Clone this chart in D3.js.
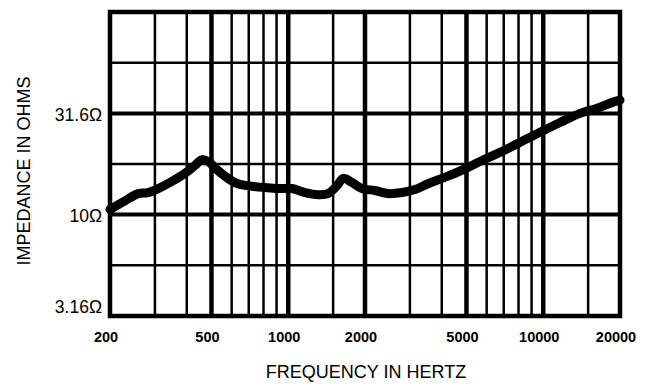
<!DOCTYPE html>
<html>
<head>
<meta charset="utf-8">
<script src="https://cdn.jsdelivr.net/npm/d3@7"></script>
<style>
    body { margin: 0; background: #fff; overflow: hidden; }
    svg { display: block; }
    text { font-family: "Liberation Sans", Arial, Helvetica, sans-serif; fill: #000; }
</style>
</head>
<body>
<div id="chart"></div>
<script>
// Impedance curve (Hz, ohms)
const freqs = [200, 229, 258, 282, 309, 350, 394, 431, 459, 484, 530, 580, 635, 721, 810, 912,
    1034, 1164, 1308, 1432, 1555, 1640, 1778, 1946, 2188, 2461, 2794, 3142, 3532, 4008, 4508,
    5070, 5754, 6766, 8100, 9710, 11640, 13940, 16260, 18780, 20000];
const ohms = [10.6, 11.7, 12.7, 12.85, 13.45, 14.6, 16.0, 17.5, 18.7, 18.3, 16.5, 15.1, 14.2, 13.8, 13.6, 13.45,
    13.45, 12.85, 12.55, 12.7, 13.9, 15.1, 14.4, 13.45, 13.15, 12.7, 12.85, 13.3, 14.2, 15.1, 16.0,
    17.1, 18.5, 20.3, 22.7, 25.5, 28.5, 31.6, 33.5, 35.9, 36.7];

// grid
const freqGrid = [200, 300, 400, 500, 600, 700, 800, 900, 1000, 1500, 2000, 3000, 4000, 5000,
    6000, 7000, 8000, 9000, 10000, 15000, 20000];
const freqMajor = [500, 1000, 2000, 5000, 10000];
const freqLabels = [200, 500, 1000, 2000, 5000, 10000, 20000];
const ohmGrid = [3.16, 5.62, 10, 17.8, 31.6, 56.2, 100];
const ohmMajor = [10, 31.6];
const ohmLabels = [31.6, 10, 3.16];

const width = 645, height = 385;
const margin = { top: 12, right: 25, bottom: 69, left: 110 };
const innerWidth = width - margin.left - margin.right;
const innerHeight = height - margin.top - margin.bottom;

const svg = d3.select('#chart')
    .append('svg')
    .attr('width', width)
    .attr('height', height);

const g = svg.append('g')
    .attr('transform', `translate(${margin.left},${margin.top})`);

const x = d3.scaleLog().domain([200, 20000]).range([0, innerWidth]);
const y = d3.scaleLog().domain([3.16, 100]).range([innerHeight, 0]);

// vertical grid lines
g.selectAll('.vgrid')
    .data(freqGrid)
    .enter()
    .append('line')
    .attr('x1', d => x(d))
    .attr('x2', d => x(d))
    .attr('y1', 0)
    .attr('y2', innerHeight)
    .attr('stroke', '#000')
    .attr('stroke-width', d => freqMajor.includes(d) ? 4.5 : 2.5);

// horizontal grid lines
g.selectAll('.hgrid')
    .data(ohmGrid)
    .enter()
    .append('line')
    .attr('x1', 0)
    .attr('x2', innerWidth)
    .attr('y1', d => y(d))
    .attr('y2', d => y(d))
    .attr('stroke', '#000')
    .attr('stroke-width', d => ohmMajor.includes(d) ? 4 : 2.5);

// frame
g.append('rect')
    .attr('width', innerWidth)
    .attr('height', innerHeight)
    .attr('fill', 'none')
    .attr('stroke', '#000')
    .attr('stroke-width', 4.5);

// impedance curve
const line = d3.line()
    .x((d, i) => x(freqs[i]))
    .y(d => y(d))
    .curve(d3.curveCatmullRom);

g.append('path')
    .datum(ohms)
    .attr('fill', 'none')
    .attr('stroke', '#000')
    .attr('stroke-width', 9)
    .attr('stroke-linecap', 'round')
    .attr('stroke-linejoin', 'round')
    .attr('d', line);

// x tick labels
g.selectAll('.xlabel')
    .data(freqLabels)
    .enter()
    .append('text')
    .attr('x', d => x(d) - 4)
    .attr('y', innerHeight + 26)
    .attr('text-anchor', 'middle')
    .attr('font-size', 14.5)
    .attr('font-weight', 'bold')
    .text(d => d);

// y tick labels
g.selectAll('.ylabel')
    .data(ohmLabels)
    .enter()
    .append('text')
    .attr('x', -8)
    .attr('y', (d, i) => y(d) + (i === ohmLabels.length - 1 ? -9 : 1))
    .attr('dy', '0.35em')
    .attr('text-anchor', 'end')
    .attr('font-size', 17.5)
    .text(d => d + 'Ω');

// axis titles
svg.append('text')
    .attr('x', 366)
    .attr('y', 378)
    .attr('text-anchor', 'middle')
    .attr('font-size', 18)
    .text('FREQUENCY IN HERTZ');

svg.append('text')
    .attr('transform', 'rotate(-90)')
    .attr('x', -171)
    .attr('y', 30)
    .attr('text-anchor', 'middle')
    .attr('font-size', 18)
    .text('IMPEDANCE IN OHMS');
</script>
</body>
</html>
